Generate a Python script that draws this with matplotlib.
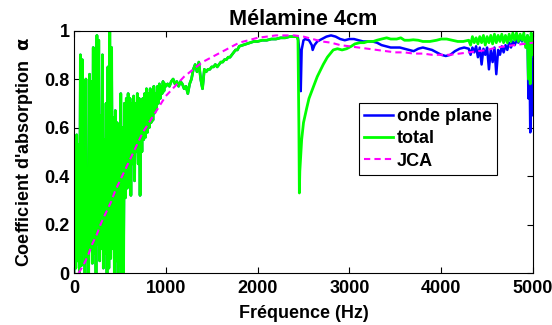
import numpy as np
import matplotlib
matplotlib.use("Agg")
import matplotlib.pyplot as plt

plt.rcParams['font.family'] = ['Liberation Sans', 'DejaVu Sans']
plt.rcParams['font.weight'] = 'bold'
plt.rcParams['font.size'] = 13

# mesure "total" : zone bruitee basse frequence (pas de 10 Hz)
f_low = np.arange(0, 1001, 10)
total_low = [0.00, 0.56, 0.02, 0.57, 0.05, 0.53, 0.00, 0.90, 0.03, 0.88,
             0.08, 0.44, 0.00, 0.80, 0.06, 0.43, 0.00, 0.82, 0.10, 0.79,
             0.04, 0.93, 0.08, 0.92, 0.00, 0.98, 0.12, 0.96, 0.05, 0.65,
             0.10, 0.90, 0.02, 0.55, 0.08, 0.70, 0.00, 0.85, 0.02, 1.00,
             0.06, 0.93, 0.10, 0.64, 0.00, 0.67, 0.05, 0.62, 0.00, 0.55,
             0.03, 0.74, 0.00, 0.60, 0.00,
             0.70, 0.31, 0.72, 0.35, 0.74, 0.40, 0.72, 0.32, 0.70, 0.45,
             0.73, 0.38, 0.70, 0.50, 0.74, 0.45, 0.72, 0.32, 0.70, 0.50,
             0.72, 0.55, 0.74, 0.56, 0.76, 0.58, 0.74, 0.60, 0.76, 0.62,
             0.75, 0.63, 0.77, 0.66, 0.74, 0.68, 0.77, 0.70, 0.78, 0.72,
             0.77, 0.74, 0.79, 0.75, 0.78, 0.77]

# "total" au-dessus de 1000 Hz
f_mid = [1020, 1040, 1060, 1080, 1100, 1120, 1140, 1160, 1180, 1200,
         1220, 1240, 1260, 1280, 1300, 1320, 1340, 1360, 1380, 1400,
         1420, 1440, 1460, 1480, 1500, 1520, 1540, 1560, 1580, 1600,
         1620, 1640, 1660, 1680, 1700, 1720, 1740, 1760, 1780, 1800,
         1840, 1880, 1920, 1960, 2000, 2050, 2100, 2150, 2200, 2250,
         2300, 2350, 2400, 2430]
total_mid = [0.78, 0.77, 0.79, 0.80, 0.78, 0.79, 0.77, 0.79, 0.78, 0.76,
             0.77, 0.74, 0.78, 0.80, 0.84, 0.86, 0.83, 0.87, 0.80, 0.76,
             0.84, 0.83, 0.84, 0.84, 0.85, 0.85, 0.86, 0.85, 0.86, 0.87,
             0.87, 0.88, 0.88, 0.89, 0.89, 0.90, 0.91, 0.92, 0.92, 0.935,
             0.94, 0.945, 0.95, 0.955, 0.955, 0.96, 0.96, 0.965, 0.965, 0.97,
             0.97, 0.975, 0.975, 0.975]

f_hi_total = [2440, 2450, 2455, 2460, 2480, 2500, 2535, 2560, 2600, 2650,
              2715, 2760, 2824, 2870, 2920, 2970, 3020, 3060, 3115, 3160,
              3200, 3260, 3300, 3350, 3406, 3450, 3515, 3560, 3600, 3650,
              3695, 3750, 3800, 3877, 3950, 4000, 4060, 4120, 4180, 4240,
              4300, 4320, 4340, 4360, 4380, 4400, 4420, 4440, 4460, 4480,
              4500, 4520, 4540, 4560, 4580, 4600, 4620, 4640, 4660, 4680,
              4700, 4720, 4740, 4760, 4780, 4800, 4820, 4840, 4860, 4880,
              4900, 4920, 4940, 4950, 4960, 4970, 4980, 4990, 5000]
total_hi = [0.96, 0.60, 0.33, 0.42, 0.55, 0.62, 0.68, 0.72, 0.76, 0.81,
            0.86, 0.89, 0.92, 0.925, 0.92, 0.925, 0.935, 0.945, 0.95, 0.95,
            0.955, 0.955, 0.96, 0.965, 0.97, 0.965, 0.965, 0.97, 0.96, 0.96,
            0.962, 0.96, 0.955, 0.955, 0.96, 0.965, 0.965, 0.96, 0.955, 0.955,
            0.96, 0.94, 0.975, 0.95, 0.97, 0.945, 0.975, 0.95, 0.98, 0.94,
            0.975, 0.95, 0.98, 0.945, 0.985, 0.95, 0.98, 0.955, 0.985, 0.95,
            0.98, 0.95, 0.985, 0.955, 0.99, 0.96, 0.99, 0.955, 0.985, 0.96,
            0.99, 0.93, 0.98, 0.80, 0.97, 0.78, 0.99, 0.90, 0.97]

# "onde plane" : confondue avec total jusqu'a 2430 Hz
f_hi_onde = [2440, 2460, 2470, 2480, 2500, 2520, 2560, 2590, 2600, 2620,
             2650, 2700, 2750, 2800, 2850, 2900, 2950, 3000, 3050, 3100,
             3150, 3200, 3250, 3300, 3350, 3400, 3450, 3500, 3550, 3600,
             3650, 3700, 3750, 3800, 3850, 3900, 3950, 4000, 4050, 4100,
             4150, 4200, 4250, 4300, 4320, 4340, 4360, 4380, 4400, 4420,
             4440, 4460, 4480, 4500, 4520, 4540, 4560, 4580, 4600, 4620,
             4640, 4660, 4680, 4700, 4720, 4740, 4760, 4780, 4800, 4820,
             4840, 4860, 4880, 4900, 4920, 4940, 4950, 4960, 4970, 4980,
             4990, 5000]
onde_hi = [0.97, 0.90, 0.75, 0.92, 0.96, 0.965, 0.96, 0.94, 0.92, 0.94,
           0.955, 0.965, 0.975, 0.98, 0.975, 0.965, 0.96, 0.965, 0.965, 0.96,
           0.955, 0.955, 0.955, 0.95, 0.94, 0.935, 0.93, 0.93, 0.93, 0.925,
           0.92, 0.915, 0.925, 0.93, 0.925, 0.92, 0.91, 0.90, 0.895, 0.90,
           0.915, 0.925, 0.93, 0.925, 0.90, 0.93, 0.91, 0.935, 0.89, 0.93,
           0.86, 0.925, 0.90, 0.93, 0.84, 0.92, 0.87, 0.93, 0.82, 0.92,
           0.90, 0.935, 0.91, 0.94, 0.92, 0.95, 0.93, 0.955, 0.94, 0.96,
           0.95, 0.97, 0.955, 0.975, 0.96, 0.98, 0.72, 0.97, 0.58, 0.95,
           0.65, 0.88]

# modele JCA
f_jca = [50, 100, 150, 200, 250, 300, 350, 400, 450, 500,
         550, 600, 650, 700, 750, 800, 850, 900, 950, 1000,
         1100, 1200, 1300, 1400, 1500, 1600, 1700, 1800, 1900, 2000,
         2100, 2200, 2300, 2400, 2500, 2600, 2700, 2800, 2900, 3000,
         3100, 3200, 3300, 3400, 3500, 3600, 3700, 3800, 3900, 4000,
         4100, 4200, 4300, 4400, 4500, 4600, 4700, 4800, 4900, 5000]
jca = [0.0, 0.03, 0.07, 0.12, 0.16, 0.21, 0.25, 0.29, 0.34, 0.38,
       0.42, 0.46, 0.50, 0.54, 0.58, 0.61, 0.64, 0.67, 0.70, 0.73,
       0.77, 0.81, 0.84, 0.87, 0.89, 0.91, 0.93, 0.95, 0.96, 0.97,
       0.975, 0.98, 0.98, 0.98, 0.975, 0.965, 0.955, 0.95, 0.94, 0.935,
       0.93, 0.925, 0.92, 0.915, 0.91, 0.91, 0.905, 0.905, 0.90, 0.90,
       0.90, 0.905, 0.91, 0.915, 0.92, 0.93, 0.935, 0.94, 0.945, 0.95]

f_total = list(f_low) + f_mid + f_hi_total
total = total_low + total_mid + total_hi
f_onde = list(f_low) + f_mid + f_hi_onde
onde = total_low + total_mid + onde_hi

fig = plt.figure(figsize=(5.52, 3.25), dpi=100)
ax = fig.add_axes([0.134, 0.16, 0.8316, 0.746])

ax.plot(f_onde, onde, color='#0000ff', lw=1.8, label='onde plane')
ax.plot(f_total, total, color='#00ff00', lw=2.0, label='total')
ax.plot(f_jca, jca, color='#ff00ff', lw=1.5, ls='--', dashes=(3, 2), label='JCA')

ax.set_xlim(0, 5000)
ax.set_ylim(0, 1)
ax.set_xticks([0, 1000, 2000, 3000, 4000, 5000])
ax.set_yticks([0, 0.2, 0.4, 0.6, 0.8, 1])
ax.set_yticklabels(['0', '0.2', '0.4', '0.6', '0.8', '1'])
ax.tick_params(direction='in', top=True, right=True, length=4, width=0.8)
ax.tick_params(axis='y', pad=3)
ax.tick_params(axis='x', pad=5)

ax.set_title('Mélamine 4cm', fontweight='bold', pad=4)
ax.set_xlabel('Fréquence (Hz)', fontweight='bold', labelpad=6)
ax.set_ylabel(r"Coefficient d'absorption  $\mathrm{\alpha}$", fontweight='bold', labelpad=7)

leg = ax.legend(loc='upper right', bbox_to_anchor=(0.922, 0.703), borderaxespad=0,
                fancybox=False, framealpha=1, edgecolor='black',
                handlelength=1.6, handletextpad=0.2, labelspacing=0.3,
                borderpad=0.3)
leg.get_frame().set_linewidth(0.8)

fig.savefig('out.png', dpi=100)
